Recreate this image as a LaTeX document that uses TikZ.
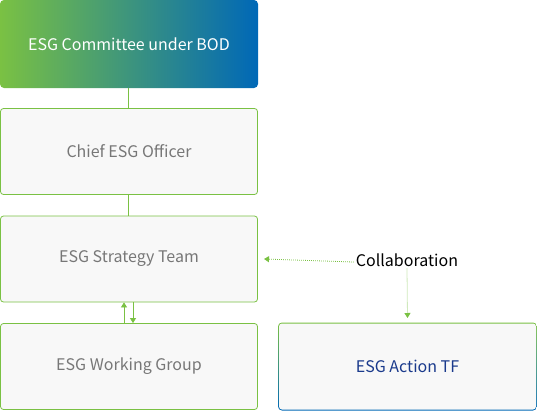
\documentclass[tikz,border=0pt]{standalone}
\usepackage{fontspec}
\setmainfont{Noto Sans CJK KR}
\usetikzlibrary{arrows.meta,positioning,calc}
\usepackage{xcolor}
\definecolor{esggreen}{HTML}{7AC143}
\definecolor{esgblue}{HTML}{0068B7}
\definecolor{esgbg}{HTML}{F8F8F8}
\definecolor{esgtext}{HTML}{777777}
\definecolor{esgnavy}{HTML}{1A3A8C}

\begin{document}
\begin{tikzpicture}[x=1pt, y=-1pt,
    every node/.style={font=\fontsize{16}{19}\selectfont},
    orgbox/.style={draw=esggreen, line width=0.8pt, fill=esgbg, rounded corners=3pt,
        minimum width=257pt, minimum height=86pt, text=esgtext, inner sep=0pt},
    topbox/.style={left color=esggreen, right color=esgblue, rounded corners=4pt,
        minimum width=258pt, minimum height=88pt, text=white, inner sep=0pt},
    tfrim/.style={top color=esggreen, bottom color=esgblue, rounded corners=4pt,
        minimum width=259pt, minimum height=88pt, inner sep=0pt},
    tfbox/.style={fill=esgbg, rounded corners=3pt, minimum width=257pt,
        minimum height=86pt, text=esgnavy, inner sep=0pt},
    link/.style={draw=esggreen, line width=0.8pt},
    flow/.style={link, -{Triangle[length=5pt,width=6pt]}},
    collab/.style={draw=esggreen, line width=0.8pt, dash pattern=on 0.8pt off 1.2pt,
        -{Triangle[length=5pt,width=6pt]}}]
    \useasboundingbox (0,0) rectangle (537,412);
    % Main chain
    \node[topbox] (bod) at (129,44) {ESG Committee under BOD};
    \node[orgbox] (ceo) at (129,151.5) {Chief ESG Officer};
    \node[orgbox] (team) at (129,259) {ESG Strategy Team};
    \node[orgbox] (wg) at (129,366.5) {ESG Working Group};
    % Task force
    \node[tfrim] (tfrim) at (407.5,366.5) {};
    \node[tfbox] (tf) at (tfrim.center) {ESG Action TF};
    \node[text=black, inner sep=2pt] (collab) at (407,260) {Collaboration};
    % Connectors
    \draw[link] (bod.south -| 128,0) -- (ceo.north -| 128,0);
    \draw[link] (ceo.south -| 128,0) -- (team.north -| 128,0);
    \draw[flow] (wg.north -| 124,0) -- (team.south -| 124,0);
    \draw[flow] (team.south -| 133,0) -- (wg.north -| 133,0);
    \draw[collab] (collab.west |- 0,262) -- (team.east -| 264,0);
    \draw[collab] (collab.south) -- (tfrim.north |- 0,318);
\end{tikzpicture}
\end{document}
